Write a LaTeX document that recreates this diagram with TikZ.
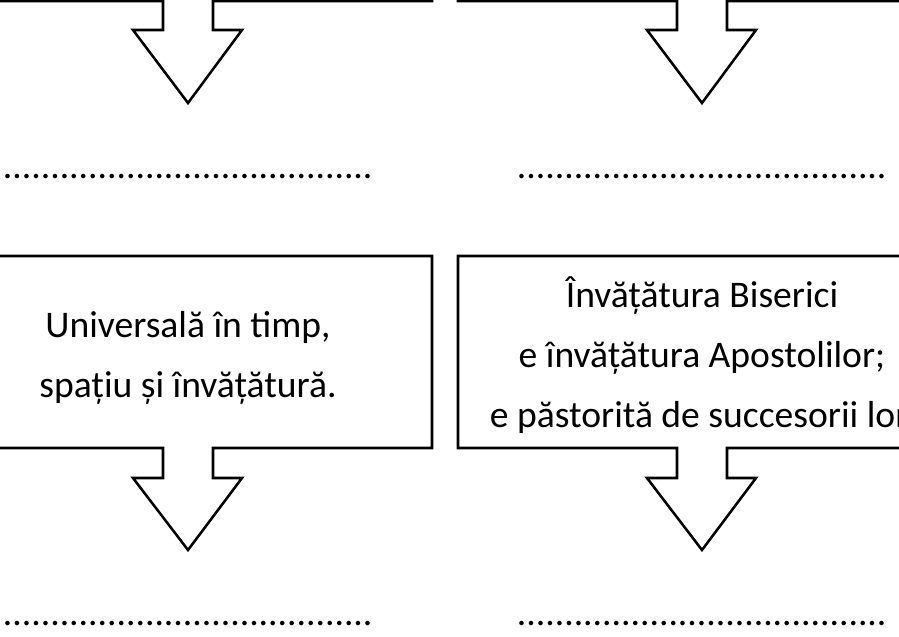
\documentclass[tikz,border=0pt]{standalone}
\usepackage{fontspec}
\setmainfont{Carlito}
\usepackage{tikz}

\begin{document}
\begin{tikzpicture}[x=0.75pt,y=-0.75pt,
    callout/.style={line width=1.9pt,line join=miter,draw=black},
    txt/.style={font=\fontsize{28.2}{45}\selectfont,align=center,inner sep=0pt}]
            %%% FRAME %%%
            \clip (0,0) rectangle (899,636);

            %%% COORDINATES %%%
            \draw (188,0) coordinate (c1);
            \draw (702,0) coordinate (c2);

            %%% TOP CALLOUTS %%%
            \draw[callout] (-10,1)--(163,1)--(163,30)--(133,30)--(188,103)--(242,30)--(213,30)--(213,1)--(432,1)--(432,-10);
            \draw[callout] (458,-10)--(458,1)--(677,1)--(677,30)--(647,30)--(702,103)--(756,30)--(727,30)--(727,1)--(910,1);

            %%% FIRST DOTS %%%
            \node[txt,anchor=base] (d1) at (c1 |- 0,178) {.......................................};
            \node[txt,anchor=base] (d2) at (c2 |- 0,178) {.......................................};

            %%% MIDDLE CALLOUTS %%%
            \draw[callout] (-10,256)--(432,256)--(432,448)--(213,448)--(213,478)--(242,478)--(188,550)--(133,478)--(163,478)--(163,448)--(-10,448);
            \draw[callout] (910,256)--(458,256)--(458,448)--(677,448)--(677,478)--(647,478)--(702,550)--(756,478)--(727,478)--(727,448)--(910,448);
            \node[txt] (t1) at (c1 |- 0,358) {Universală în timp,\\ spațiu și învățătură.};
            \node[txt] (t2) at (c2 |- 0,355) {Învățătura Biserici\\ e învățătura Apostolilor;\\ e păstorită de succesorii lor.};

            %%% LAST DOTS %%%
            \node[txt,anchor=base] (d3) at (c1 |- 0,625) {.......................................};
            \node[txt,anchor=base] (d4) at (c2 |- 0,625) {.......................................};
        \end{tikzpicture}
\end{document}
